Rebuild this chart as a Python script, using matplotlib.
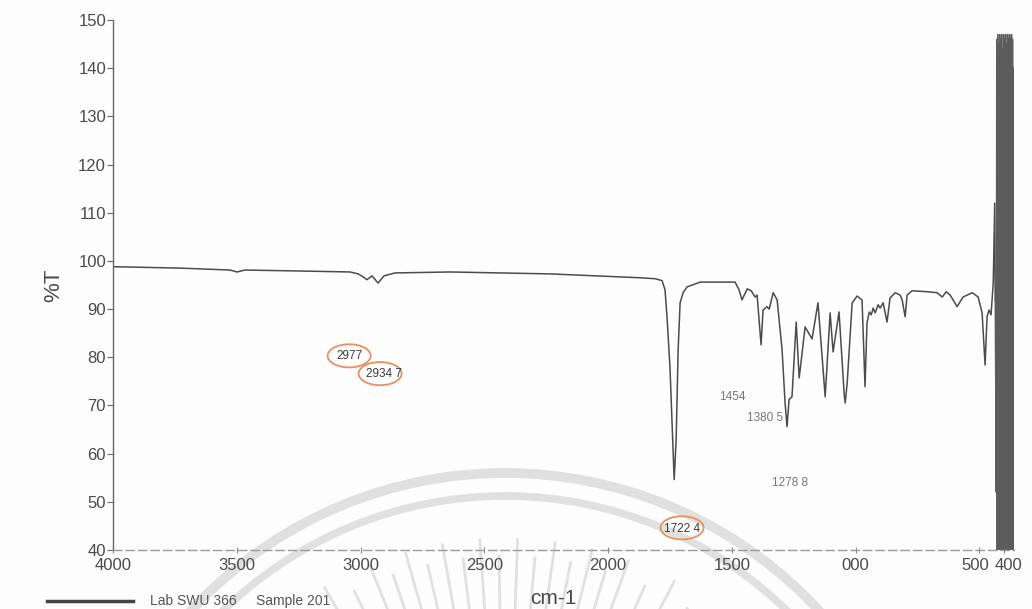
import matplotlib.pyplot as plt
import numpy as np
from matplotlib.lines import Line2D
from matplotlib.patches import Circle, Ellipse
from matplotlib.transforms import ScaledTranslation

plt.rcParams["font.family"] = ["Liberation Sans", "DejaVu Sans"]

# spectrum (cm-1, %T)
wavenumber = [
    4000, 3729, 3527, 3499, 3467, 3244, 3042, 3010, 2990, 2974, 2954, 2929,
    2905, 2861, 2638, 2234, 1871, 1810, 1782, 1770, 1762, 1750, 1742, 1733,
    1725, 1717, 1709, 1697, 1681, 1628, 1487, 1471, 1459, 1438, 1422, 1406,
    1398, 1382, 1374, 1358, 1349, 1333, 1317, 1297, 1285, 1277, 1269, 1257,
    1240, 1228, 1204, 1176, 1152, 1123, 1103, 1091, 1067, 1046, 1042, 1034,
    1014, 994, 974, 962, 954, 945, 937, 929, 921, 909, 901, 889,
    873, 861, 840, 820, 812, 800, 792, 772, 711, 671, 650, 634,
    618, 590, 566, 529, 505, 489, 477, 469, 461, 453, 444, 438, 436,
]
transmittance = [
    98.8, 98.5, 98.1, 97.7, 98.1, 97.9, 97.7, 97.3, 96.7, 96.1, 96.9, 95.4,
    96.9, 97.5, 97.7, 97.3, 96.5, 96.3, 95.9, 94.0, 88.4, 78.0, 67.0, 54.6,
    62.9, 81.5, 91.3, 93.4, 94.6, 95.6, 95.6, 94.0, 91.9, 94.2, 93.8, 92.5,
    92.9, 82.6, 89.8, 90.5, 90.0, 93.4, 91.9, 81.5, 70.5, 65.6, 71.2, 71.8,
    87.3, 75.7, 86.3, 83.8, 91.3, 71.8, 89.2, 81.1, 89.4, 72.2, 70.5, 74.7,
    91.3, 92.7, 91.9, 73.9, 87.1, 89.4, 88.8, 90.2, 89.2, 90.9, 90.2, 91.3,
    87.3, 92.3, 93.4, 92.9, 91.9, 88.4, 92.9, 93.8, 93.6, 93.4, 92.5, 93.6,
    92.9, 90.5, 92.5, 93.4, 92.5, 89.2, 78.4, 88.4, 89.8, 88.8, 95.4, 112.0, 91.9,
]
# noisy detector-cutoff region at the low end
band_wavenumber = [
    436, 432, 430, 428, 426, 424, 422, 420, 418, 416, 414, 412, 410,
    408, 406, 404, 402, 400, 398, 396, 394, 392, 390, 388, 386,
    384, 382, 380, 378, 376, 374, 372, 370, 368, 366, 364, 362,
]
band_transmittance = [
    91.9, 52, 146, 40, 147, 36, 145, 38, 147, 35, 146, 42, 147,
    36, 144, 35, 147, 38, 146, 36, 147, 35, 145, 37, 147,
    36, 146, 35, 147, 38, 146, 36, 147, 35, 146, 38, 140,
]

x_ticks = [4000, 3500, 3000, 2500, 2000, 1500, 1000, 500, 400]
x_tick_labels = ["4000", "3500", "3000", "2500", "2000", "1500", "000", "500", "400"]
y_ticks = [40, 50, 60, 70, 80, 90, 100, 110, 120, 130, 140, 150]

peak_labels = ["2977", "2934 7", "1722 4", "1454", "1380 5", "1278 8"]
peak_label_pos = [(3046, 80.3), (2905, 76.6), (1701, 44.4), (1499, 71.8), (1366, 67.4), (1265, 54.0)]
circle_pos = [(3046, 80.3), (2921, 76.6), (1701, 44.6), None, None, None]

fig = plt.figure(figsize=(10.32, 6.09), dpi=100)
fig.patch.set_facecolor("#fdfdfd")

# faint university watermark behind the plot (pixel coords)
bg = fig.add_axes([0, 0, 1, 1], zorder=0)
bg.set_xlim(0, 1032)
bg.set_ylim(609, 0)
bg.axis("off")
wm_color = "#e0e0e0"
wm_x, wm_y = 505, 900
bg.add_patch(Circle((wm_x, wm_y), 427, fill=False, ec=wm_color, lw=7))
bg.add_patch(Circle((wm_x, wm_y), 404, fill=False, ec=wm_color, lw=5.5))
ray_angles = [-34, -30, -26, -22, -19, -16, -13, -10, -7, -4, -1, 2, 5, 8, 11, 14, 17, 20, 24, 28, 32]
for i, angle in enumerate(ray_angles):
    a = np.radians(angle)
    r0, r1 = 270, (362 if i % 2 else 345)
    bg.plot([wm_x + r0 * np.sin(a), wm_x + r1 * np.sin(a)],
            [wm_y - r0 * np.cos(a), wm_y - r1 * np.cos(a)],
            color=wm_color, lw=2.0, solid_capstyle="butt")

ax = fig.add_axes([0.1095, 0.0969, 0.8731, 0.8703], zorder=1)
ax.patch.set_alpha(0)

ax.plot(wavenumber, transmittance, color="#4b4b4b", lw=1.1)
ax.plot(band_wavenumber, band_transmittance, color="#5c5c5c", lw=1.0)

ax.set_xlim(4000, 360)
ax.set_ylim(40, 150)
ax.set_xticks(x_ticks)
ax.set_xticklabels(x_tick_labels)
ax.set_yticks(y_ticks)

for side in ("top", "right"):
    ax.spines[side].set_visible(False)
ax.spines["left"].set_color("#666666")
ax.spines["left"].set_linewidth(1.0)
ax.spines["bottom"].set_color("#9a9a9a")
ax.spines["bottom"].set_linestyle((0, (6, 3)))
ax.spines["bottom"].set_linewidth(1.0)

ax.tick_params(axis="y", direction="out", length=4, width=0.8, colors="#666666",
               labelcolor="#4a4a4a", labelsize=12, pad=1)
ax.tick_params(axis="x", direction="inout", length=4, width=0.8, colors="#888888",
               labelcolor="#4a4a4a", labelsize=12, pad=4)

# the 500 and 400 labels run together on the scan
labels = ax.get_xticklabels()
labels[-2].set_transform(labels[-2].get_transform() + ScaledTranslation(-3 / 72, 0, fig.dpi_scale_trans))
labels[-1].set_transform(labels[-1].get_transform() + ScaledTranslation(3 / 72, 0, fig.dpi_scale_trans))

ax.set_ylabel("%T", fontsize=16, color="#4a4a4a", labelpad=10)
fig.text(553 / 1032, 1 - 589 / 609, "cm-1", fontsize=15, color="#4a4a4a",
         ha="center", va="top")

for text, (px, py), ring in zip(peak_labels, peak_label_pos, circle_pos):
    if ring is not None:
        ax.text(px, py, text, ha="center", va="center", fontsize=8.5, color="#3c3c3c")
        # hand-drawn orange rings, roughly 43 x 23 px
        ax.add_patch(Ellipse(ring, 174, 4.8, fill=False, ec="#e6915a", lw=1.3))
    else:
        ax.text(px, py, text, ha="center", va="center", fontsize=8.5, color="#777777")

# legend strip at the foot of the page
fig.add_artist(Line2D([47 / 1032, 133 / 1032], [1 - 601 / 609] * 2, color="#444444", lw=2.5))
fig.text(150 / 1032, 1 - 594 / 609, "Lab SWU 366     Sample 201", fontsize=10,
         color="#555555", ha="left", va="top")

fig.savefig("out.png", dpi=100, facecolor=fig.get_facecolor())
